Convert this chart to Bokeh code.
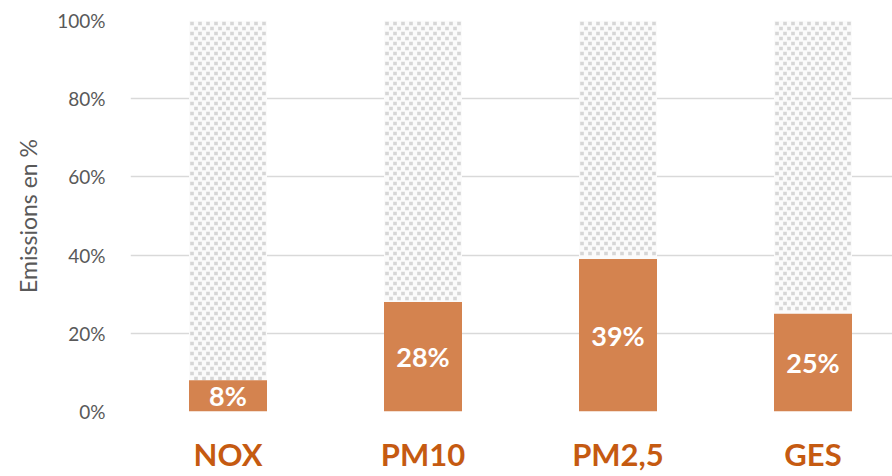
import numpy as np
from bokeh.plotting import figure
from bokeh.models import Range1d, FixedTicker, NumeralTickFormatter, ColumnDataSource, LabelSet
from bokeh.embed import file_html
from bokeh.resources import INLINE
from bokeh.core.properties import value

categories = ["NOX", "PM10", "PM2,5", "GES"]
emissions = [0.08, 0.28, 0.39, 0.25]
totals = [1.0, 1.0, 1.0, 1.0]
labels = ["8%", "28%", "39%", "25%"]
y_ticks = [0, 0.2, 0.4, 0.6, 0.8, 1.0]

BAR_W = 0.4
xs = list(range(len(categories)))
src = ColumnDataSource(dict(x=xs, v=emissions, t=totals, lab=labels,
                            mid=[e / 2 for e in emissions]))

W, H = 892, 476
L, R, T, B = 130, 0, 20, 65
p = figure(width=W, height=H, output_backend="svg", toolbar_location=None,
           x_range=Range1d(-0.5, -0.5 + (W - L - R) / 195.0), y_range=Range1d(0, 1.0),
           min_border_left=L, min_border_right=R, min_border_top=T, min_border_bottom=B)
p.outline_line_color = None
p.background_fill_color = "white"

# dotted texture for the remaining (grey) part of each bar
ux = 1 / 195.0          # one pixel in x data units
uy = 1 / (H - T - B)    # one pixel in y data units
px, py = [], []
for xi, v, t in zip(xs, emissions, totals):
    left = xi - BAR_W / 2
    rows = np.arange(t - 3 * uy, v + 1.5 * uy, -5 * uy)
    for r_i, yy in enumerate(rows):
        off = 3 * ux if r_i % 2 == 0 else 7 * ux
        cols = np.arange(left + off, xi + BAR_W / 2 - ux, 8 * ux)
        px.extend(cols)
        py.extend([yy] * len(cols))
p.vbar(x="x", bottom="v", top="t", width=BAR_W, source=src, fill_color="#fbfbfb",
       line_color=None)
p.scatter(px, py, marker="square", size=3.6, fill_color="#d6d6d6", line_color=None)

p.vbar(x="x", bottom=0, top="v", width=BAR_W, source=src, fill_color="#d4834f",
       line_color=None)

lbl = LabelSet(x="x", y="mid", text="lab", source=src, text_align="center",
               text_baseline="middle", text_color="white", text_font_size="27px",
               text_font_style="bold", text_font=value("Lato"))
p.add_layout(lbl)

p.xgrid.grid_line_color = None
p.ygrid.grid_line_color = "#d9d9d9"
p.ygrid.grid_line_width = 1.5
p.yaxis.ticker = FixedTicker(ticks=y_ticks)
p.yaxis.formatter = NumeralTickFormatter(format="0%")
p.yaxis.axis_line_color = None
p.yaxis.major_tick_line_color = None
p.yaxis.minor_tick_line_color = None
p.yaxis.major_label_text_color = "#595959"
p.yaxis.major_label_text_font = "Lato"
p.yaxis.major_label_text_font_size = "19px"
p.yaxis.major_label_standoff = 19
p.yaxis.axis_label = "Emissions en %"
p.yaxis.axis_label_text_font = "Lato"
p.yaxis.axis_label_text_font_style = "normal"
p.yaxis.axis_label_text_font_size = "23px"
p.yaxis.axis_label_text_color = "#595959"
p.yaxis.axis_label_standoff = 12

p.xaxis.ticker = FixedTicker(ticks=xs)
p.xaxis.major_label_overrides = {i: c for i, c in zip(xs, categories)}
p.xaxis.axis_line_color = None
p.xaxis.major_tick_line_color = None
p.xaxis.minor_tick_line_color = None
p.xaxis.major_label_text_color = "#c55a11"
p.xaxis.major_label_text_font = "Lato"
p.xaxis.major_label_text_font_style = "bold"
p.xaxis.major_label_text_font_size = "31px"
p.xaxis.major_label_standoff = 17

open("out.html", "w").write(file_html(p, INLINE))
